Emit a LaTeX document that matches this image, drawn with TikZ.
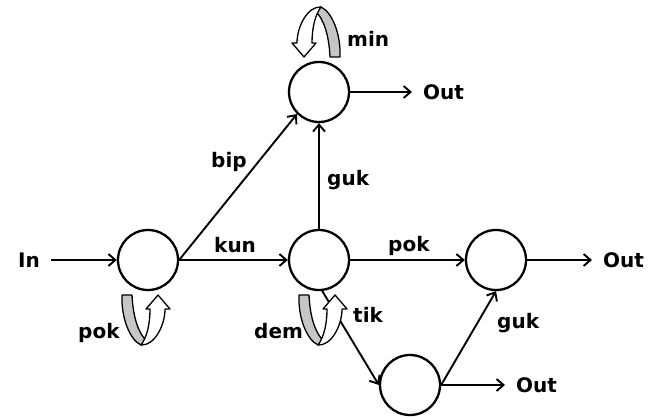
\documentclass[tikz,border=0pt]{standalone}
\usepackage{fontspec}
\setmainfont{DejaVu Sans}
\usetikzlibrary{arrows.meta}
\tikzset{
  selfloop/.pic={
    \fill[gray!45, draw=black, line width=1.3pt, line join=round]
      (-26,35) -- (-16,35) .. controls (-15,58) and (-9,74) .. (-2,80)
      .. controls (-4,84) and (-6,85) .. (-7,85)
      .. controls (-18,80) and (-27,58) .. cycle;
    \filldraw[fill=white, line width=1.3pt, line join=round]
      (-7,85) .. controls (6,86) and (17,66) .. (17,49) -- (22,49) -- (10,35)
      -- (-2,49) -- (2,49) .. controls (2,64) and (-1,77) .. (-7,85) -- cycle;
  }
}
\begin{document}
\begin{tikzpicture}[x=1pt,y=-1pt,
  state/.style={circle, draw, line width=2.3pt, minimum size=60pt, inner sep=0pt},
  arr/.style={line width=1.9pt, -{Straight Barb[length=7pt,width=12pt]}},
  lbl/.style={font=\fontsize{20}{24}\selectfont\bfseries, inner sep=0pt},
  outl/.style={lbl, inner xsep=11pt},
]
\useasboundingbox (0,0) rectangle (652,417);
\node[state] (A) at (148,260) {};
\node[state] (B) at (319,92) {};
\node[state] (C) at (319,260) {};
\node[state] (D) at (496,260) {};
\node[state] (E) at (410,385) {};

\node[outl, anchor=east] (in) at (51,260) {In};
\node[outl, anchor=west] (oB) at (412,92) {Out};
\node[outl, anchor=west] (oD) at (592,260) {Out};
\node[outl, anchor=west] (oE) at (505,385) {Out};

\draw[arr] (in) -- (A);
\draw[arr] (A.east) -- (B.south west);
\draw[arr] (A) -- (C);
\draw[arr] (C) -- (B);
\draw[arr] (C) -- (D);
\draw[arr] (B) -- (oB);
\draw[arr] (D) -- (oD);
\draw[arr] (E) -- (oE);
\draw[arr] (E.east) -- (D.south);
\draw[arr] (C.-84) -- (E.west);

\node[lbl, anchor=base west] (lbip) at (211,167) {bip};
\node[lbl, anchor=base west] (lkun) at (214,252) {kun};
\node[lbl, anchor=base west] (lguk1) at (327,185) {guk};
\node[lbl, anchor=base west] (lpok1) at (388,251) {pok};
\node[lbl, anchor=base west] (lmin) at (347,47) {min};
\node[lbl, anchor=base west] (lpok2) at (78,338) {pok};
\node[lbl, anchor=base west] (ldem) at (254,338) {dem};
\node[lbl, anchor=base west] (ltik) at (353,322) {tik};
\node[lbl, anchor=base west] (lguk2) at (497,328) {guk};

\path (A.center) pic {selfloop};
\path (C.center) ++(6,0) pic {selfloop};
\path (B.center) ++(-5,0) pic[rotate=180] {selfloop};
\end{tikzpicture}
\end{document}
